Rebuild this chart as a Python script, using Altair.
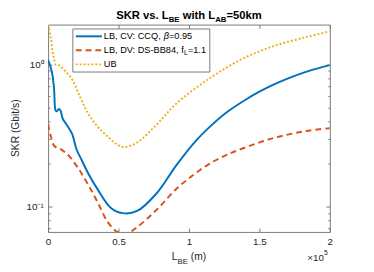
import altair as alt
import pandas as pd

# ---------------- data ----------------
series_names = ["LB, CV: CCQ", "LB, DV: DS-BB84", "UB"]

cv_x = [0, 2570, 4170, 5350, 6250, 7640, 8820, 10400, 13400, 16900, 20300, 24000,
        28500, 35400, 44400, 52800, 63200, 77100, 91000, 104900, 115300, 125700,
        139600, 150000, 160400, 172200, 184700, 200000]
cv_y = [1.08, 0.895, 0.686, 0.474, 0.468, 0.487, 0.474, 0.415, 0.374, 0.327, 0.251,
        0.211, 0.171, 0.131, 0.098, 0.0898, 0.093, 0.124, 0.195, 0.29, 0.368, 0.452,
        0.56, 0.643, 0.724, 0.812, 0.898, 0.99]

dv_x = [0, 2000, 4200, 6500, 8800, 14600, 21500, 28500, 35400, 42400, 49300, 55000,
        63200, 77100, 91000, 102800, 113900, 125700, 137500, 160400, 183300, 200000]
dv_y = [0.38, 0.31, 0.268, 0.258, 0.254, 0.228, 0.185, 0.142, 0.106, 0.0776, 0.066,
        0.064, 0.0716, 0.095, 0.133, 0.166, 0.198, 0.228, 0.255, 0.304, 0.34, 0.356]

ub_x = [0, 1900, 3000, 4200, 5350, 7640, 12300, 16900, 22900, 28500, 35400, 42400,
        49300, 54000, 63200, 77100, 91000, 113900, 137500, 160400, 183300, 200000]
ub_y = [1.9, 1.56, 1.26, 1.105, 1.0, 0.99, 0.895, 0.79, 0.585, 0.45, 0.363, 0.31,
        0.272, 0.262, 0.282, 0.378, 0.53, 0.79, 1.09, 1.35, 1.56, 1.71]

x_ticks = [0, 50000, 100000, 150000, 200000]
y_major = [0.1, 1]
y_ticks = [0.07, 0.08, 0.09, 0.1, 0.2, 0.3, 0.4, 0.5, 0.6, 0.7, 0.8, 0.9, 1]
y_domain = [0.0662, 1.91]
x_domain = [0, 200000]

# ---------------- styling ----------------
W, H = 288, 212
FONT = "Liberation Sans"
C_BLUE, C_ORANGE, C_YELLOW = "#0072BD", "#D95319", "#EDB120"
AX = "#262626"
FRAME = "#7a7a7a"

REG = {' ': 278, ',': 278, '.': 278, ':': 278, '-': 333, '=': 584, '(': 333, ')': 333,
       '/': 278, '×': 584, 'β': 576, 'A': 667, 'B': 667, 'C': 722, 'D': 722, 'E': 667,
       'G': 778, 'K': 667, 'L': 556, 'Q': 778, 'R': 722, 'S': 667, 'U': 722, 'V': 667,
       'a': 556, 'b': 556, 'f': 278, 'i': 222, 'k': 500, 'm': 833, 's': 500, 't': 278,
       'v': 500, 'w': 722, 'h': 556}
BOLD = {' ': 278, '.': 278, '=': 584, 'A': 722, 'B': 722, 'E': 667, 'K': 722, 'L': 611,
        'R': 722, 'S': 667, 'h': 611, 'i': 278, 'k': 556, 'm': 889, 's': 556, 't': 333,
        'v': 556, 'w': 778}


def tw(s, size, bold=False):
    t = BOLD if bold else REG
    return sum(t.get(c, 556) for c in s) * size / 1000.0


frames = []
for name, xs, ys in zip(series_names, [cv_x, dv_x, ub_x], [cv_y, dv_y, ub_y]):
    frames.append(pd.DataFrame({"series": name, "x": xs, "y": ys}))
df = pd.DataFrame(pd.concat(frames, ignore_index=True))

xscale = alt.Scale(domain=x_domain, nice=False, zero=False)
yscale = alt.Scale(type="log", domain=y_domain, nice=False)

base = alt.Chart(df)


def holder(xaxis, yaxis):
    return base.mark_point(opacity=0).encode(
        x=alt.X("x:Q", scale=xscale, axis=xaxis),
        y=alt.Y("y:Q", scale=yscale, axis=yaxis),
    )


xa_main = alt.Axis(orient="bottom", values=x_ticks, labelExpr="'' + datum.value / 100000",
                   ticks=False, domain=False, grid=False, title=None, labelFont=FONT,
                   labelFontSize=10, labelColor=AX, labelPadding=5, labelFlush=False,
                   labelOverlap=False)
ya_main = alt.Axis(orient="left", values=y_major,
                   labelExpr="datum.value == 1 ? '10⁰' : '10⁻¹'",
                   ticks=False, domain=False, grid=False, title=None, labelFont=FONT,
                   labelFontSize=10, labelColor=AX, labelPadding=5, labelFlush=False,
                   labelOverlap=False)

tick_kw = dict(labels=False, domain=False, grid=False, title=None, tickColor=FRAME,
               tickWidth=1)
ycond = {"condition": {"test": "datum.value == 1 || datum.value == 0.1", "value": 4},
         "value": 2}

xa_in_bottom = alt.Axis(orient="top", offset=-H, values=x_ticks, tickSize=4, **tick_kw)
xa_in_top = alt.Axis(orient="bottom", offset=-H, values=x_ticks, tickSize=4, **tick_kw)
ya_in_left = alt.Axis(orient="right", offset=-W, values=y_ticks, tickSize=ycond, **tick_kw)
ya_in_right = alt.Axis(orient="left", offset=-W, values=y_ticks, tickSize=ycond, **tick_kw)

h_main = holder(xa_main, ya_main)
h_in1 = holder(xa_in_bottom, ya_in_left)
h_in2 = holder(xa_in_top, ya_in_right)


def curve(name, color, dash=None):
    kw = dict(color=color, strokeWidth=2, clip=True, interpolate="catmull-rom")
    if dash:
        kw["strokeDash"] = dash
    return base.transform_filter(alt.datum.series == name).mark_line(**kw).encode(
        x=alt.X("x:Q", scale=xscale, axis=None),
        y=alt.Y("y:Q", scale=yscale, axis=None),
        order="x:Q",
    )


l_cv = curve(series_names[0], C_BLUE)
l_dv = curve(series_names[1], C_ORANGE, [6, 4])
l_ub = curve(series_names[2], C_YELLOW, [2, 2])

one = pd.DataFrame({"k": [0]})


def txt(s, x, y, size, weight="normal", style="normal", align="left",
        baseline="alphabetic", angle=0, color=AX):
    return alt.Chart(one).mark_text(
        text=s, font=FONT, fontSize=size, fontWeight=weight, fontStyle=style,
        align=align, baseline=baseline, angle=angle, color=color,
    ).encode(x=alt.value(x), y=alt.value(y))


def pieces(parts, x0, y0, bold=False, weight="normal", baseline="alphabetic", color=AX):
    out = []
    x = x0
    for s, size, dy, style in parts:
        lead = len(s) - len(s.lstrip(" "))
        xs = x + tw(" " * lead, size, bold)
        out.append(txt(s.strip(" "), xs, y0 + dy, size, weight=weight, style=style,
                       baseline=baseline, color=color))
        x += tw(s, size, bold)
    return out


# title
t_parts = [("SKR vs. L", 11.5, 0, "normal"), ("BE", 8, 2.5, "normal"),
           (" with L", 11.5, 0, "normal"), ("AB", 8, 2.5, "normal"),
           ("=50km", 11.5, 0, "normal")]
t_total = sum(tw(s, sz, True) for s, sz, _, _ in t_parts)
title_layers = pieces(t_parts, W / 2 - t_total / 2, -5.5, bold=True, weight="bold",
                      color="#000000")

# x axis title
xl_parts = [("L", 10.5, 0, "normal"), ("BE", 8, 4, "normal"), (" (m)", 10.5, 0, "normal")]
xl_total = sum(tw(s, sz) for s, sz, _, _ in xl_parts)
xlabel_layers = pieces(xl_parts, W / 2 - xl_total / 2, 241)

# exponent note
exp_layers = pieces([("×10", 10, 0, "normal"), ("5", 7, -6, "normal")], 265, 242)

# y axis title
ylabel = txt("SKR (Gbit/s)", -33, H / 2, 10.5, align="center", baseline="middle",
             angle=270)

# legend
box = alt.Chart(one).mark_rect(fill="white", stroke=FRAME, strokeWidth=1).encode(
    x=alt.value(25.3), x2=alt.value(165.3), y=alt.value(4.5), y2=alt.value(48.5))
rows_y = [12, 26.3, 40.7]


def sample(y, color, dash=None):
    kw = dict(color=color, strokeWidth=2)
    if dash:
        kw["strokeDash"] = dash
    return alt.Chart(one).mark_rule(**kw).encode(
        x=alt.value(28.3), x2=alt.value(55), y=alt.value(y))


leg_lines = [sample(rows_y[0], C_BLUE), sample(rows_y[1], C_ORANGE, [6, 4]),
             sample(rows_y[2], C_YELLOW, [2, 2])]
LX = 57
FS = 9.4
leg_text = []
leg_text += pieces([("LB, CV: CCQ, ", FS, 0, "normal"), ("β", FS, 0, "italic"),
                    ("=0.95", FS, 0, "normal")], LX, rows_y[0], baseline="middle",
                   color="#000000")
leg_text += pieces([("LB, DV: DS-BB84, f", FS, 0, "normal"), ("L", 7, 3, "normal"),
                    ("=1.1", FS, 0, "normal")], LX, rows_y[1], baseline="middle",
                   color="#000000")
leg_text += pieces([("UB", FS, 0, "normal")], LX, rows_y[2], baseline="middle",
                   color="#000000")

chart = alt.layer(
    h_main, h_in1, h_in2, l_ub, l_dv, l_cv, box, *leg_lines, *leg_text,
    *title_layers, *xlabel_layers, *exp_layers, ylabel,
).resolve_axis(x="independent", y="independent").properties(
    width=W, height=H,
    autosize=alt.AutoSizeParams(type="none"),
    padding={"left": 41, "top": 14, "right": 37, "bottom": 38},
    background="white",
).configure_view(stroke=FRAME, strokeWidth=1)

chart.save("out.html", embed_options={"renderer": "svg", "actions": False})
